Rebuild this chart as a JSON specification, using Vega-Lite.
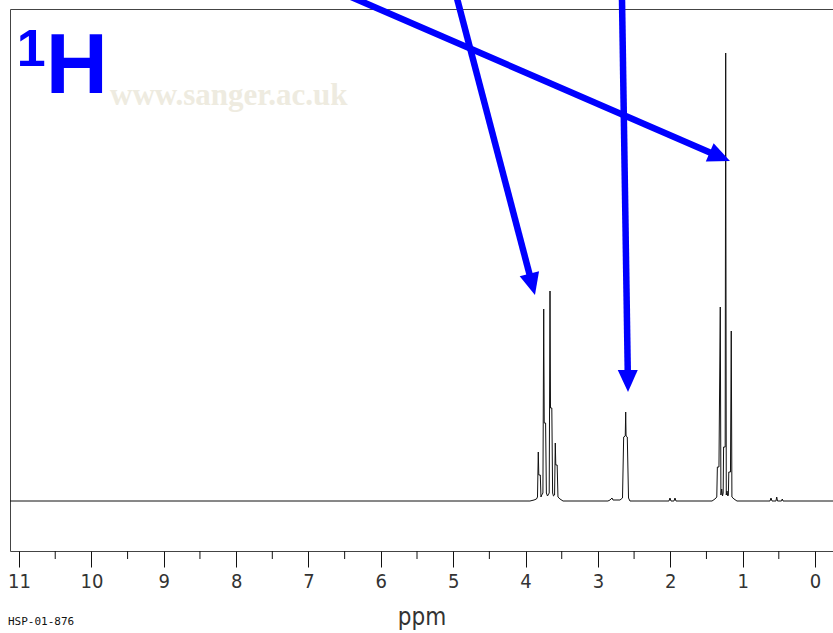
{
  "$schema": "https://vega.github.io/schema/vega-lite/v6.json",
  "autosize": {"type": "none"},
  "width": 823,
  "height": 542,
  "padding": {"left": 10, "top": 9, "right": 0, "bottom": 82},
  "background": "white",
  "config": {"view": {"stroke": "#444444", "strokeWidth": 1}},
  "layer": [
    {
      "data": {"values": [
        {"ppm": 11.125, "int": 0},
        {"ppm": 3.939, "int": 0}, {"ppm": 3.883, "int": 1}, {"ppm": 3.849, "int": 2}, {"ppm": 3.835, "int": 4},
        {"ppm": 3.824, "int": 49}, {"ppm": 3.817, "int": 26}, {"ppm": 3.796, "int": 26}, {"ppm": 3.787, "int": 4},
        {"ppm": 3.776, "int": 6}, {"ppm": 3.760, "int": 8}, {"ppm": 3.749, "int": 192}, {"ppm": 3.742, "int": 78},
        {"ppm": 3.723, "int": 78}, {"ppm": 3.712, "int": 8}, {"ppm": 3.697, "int": 5}, {"ppm": 3.673, "int": 8},
        {"ppm": 3.662, "int": 210}, {"ppm": 3.655, "int": 93}, {"ppm": 3.637, "int": 93}, {"ppm": 3.626, "int": 8},
        {"ppm": 3.614, "int": 5}, {"ppm": 3.599, "int": 6}, {"ppm": 3.589, "int": 58}, {"ppm": 3.582, "int": 36},
        {"ppm": 3.563, "int": 36}, {"ppm": 3.552, "int": 4}, {"ppm": 3.524, "int": 2}, {"ppm": 3.482, "int": 0},
        {"ppm": 2.861, "int": 0}, {"ppm": 2.833, "int": 1}, {"ppm": 2.805, "int": 3}, {"ppm": 2.792, "int": 1},
        {"ppm": 2.695, "int": 1}, {"ppm": 2.660, "int": 3}, {"ppm": 2.644, "int": 64}, {"ppm": 2.622, "int": 65},
        {"ppm": 2.616, "int": 89}, {"ppm": 2.611, "int": 65}, {"ppm": 2.594, "int": 64}, {"ppm": 2.577, "int": 3},
        {"ppm": 2.557, "int": 0},
        {"ppm": 2.018, "int": 0}, {"ppm": 2.004, "int": 3}, {"ppm": 1.990, "int": 0},
        {"ppm": 1.949, "int": 0}, {"ppm": 1.935, "int": 3}, {"ppm": 1.921, "int": 0},
        {"ppm": 1.423, "int": 0}, {"ppm": 1.382, "int": 2}, {"ppm": 1.357, "int": 4}, {"ppm": 1.349, "int": 34},
        {"ppm": 1.327, "int": 34}, {"ppm": 1.309, "int": 194}, {"ppm": 1.300, "int": 6}, {"ppm": 1.289, "int": 12},
        {"ppm": 1.278, "int": 5}, {"ppm": 1.269, "int": 8}, {"ppm": 1.263, "int": 54}, {"ppm": 1.241, "int": 54},
        {"ppm": 1.234, "int": 448}, {"ppm": 1.226, "int": 6}, {"ppm": 1.216, "int": 10}, {"ppm": 1.205, "int": 5},
        {"ppm": 1.197, "int": 6}, {"ppm": 1.191, "int": 29}, {"ppm": 1.168, "int": 29}, {"ppm": 1.157, "int": 170},
        {"ppm": 1.148, "int": 4}, {"ppm": 1.119, "int": 2}, {"ppm": 1.078, "int": 0},
        {"ppm": 0.622, "int": 0}, {"ppm": 0.608, "int": 3}, {"ppm": 0.594, "int": 0},
        {"ppm": 0.539, "int": 0}, {"ppm": 0.529, "int": 4}, {"ppm": 0.518, "int": 0},
        {"ppm": 0.463, "int": 0}, {"ppm": 0.452, "int": 2}, {"ppm": 0.442, "int": 0},
        {"ppm": -0.249, "int": 0}
      ]},
      "mark": {"type": "line", "color": "#111111", "strokeWidth": 1, "clip": true},
      "encoding": {
        "x": {
          "field": "ppm", "type": "quantitative",
          "scale": {"domain": [-0.249, 11.125], "reverse": true, "nice": false, "zero": false},
          "axis": {
            "values": [0, 1, 2, 3, 4, 5, 6, 7, 8, 9, 10, 11],
            "format": "d",
            "tickSize": 16,
            "tickColor": "#111111",
            "tickWidth": 1,
            "domain": false,
            "grid": false,
            "labelFont": "DejaVu Sans Condensed, DejaVu Sans",
            "labelFontSize": 20,
            "labelColor": "#333333",
            "labelPadding": 4,
            "labelOverlap": false,
            "labelFlush": false,
            "title": "ppm",
            "titleFont": "DejaVu Sans Condensed, DejaVu Sans",
            "titleFontSize": 24,
            "titleFontWeight": "normal",
            "titleColor": "#333333",
            "titlePadding": 14
          }
        },
        "y": {
          "field": "int", "type": "quantitative",
          "scale": {"domain": [-50, 492], "nice": false, "zero": false},
          "axis": null
        }
      }
    },
    {
      "data": {"values": [
        {"ppm": 0.5}, {"ppm": 1.5}, {"ppm": 2.5}, {"ppm": 3.5}, {"ppm": 4.5}, {"ppm": 5.5},
        {"ppm": 6.5}, {"ppm": 7.5}, {"ppm": 8.5}, {"ppm": 9.5}, {"ppm": 10.5}
      ]},
      "mark": {"type": "rule", "color": "#111111", "strokeWidth": 1, "clip": false},
      "encoding": {
        "x": {"field": "ppm", "type": "quantitative"},
        "y": {"datum": -50, "type": "quantitative"},
        "y2": {"datum": -58}
      }
    },
    {
      "data": {"values": [{"label": "www.sanger.ac.uk", "ppm": 9.743, "int": 396}]},
      "mark": {"type": "text", "font": "Liberation Serif", "fontWeight": "bold", "fontSize": 31, "color": "#eeebe0", "align": "left", "baseline": "alphabetic"},
      "encoding": {
        "x": {"field": "ppm", "type": "quantitative"},
        "y": {"field": "int", "type": "quantitative"},
        "text": {"field": "label", "type": "nominal"}
      }
    },
    {
      "data": {"values": [
        {"arrow": "a1", "ppm": 6.633, "int": 511}, {"arrow": "a1", "ppm": 1.404, "int": 347.1},
        {"arrow": "a2", "ppm": 4.978, "int": 511}, {"arrow": "a2", "ppm": 3.933, "int": 223.4},
        {"arrow": "a3", "ppm": 2.669, "int": 511}, {"arrow": "a3", "ppm": 2.587, "int": 127}
      ]},
      "mark": {"type": "line", "color": "#0000ff", "strokeWidth": 6.5, "strokeCap": "butt", "clip": false},
      "encoding": {
        "x": {"field": "ppm", "type": "quantitative"},
        "y": {"field": "int", "type": "quantitative"},
        "detail": {"field": "arrow", "type": "nominal"}
      }
    },
    {
      "data": {"values": [
        {"arrow": "a1", "ppm": 1.175, "int": 340, "rot": 113},
        {"arrow": "a2", "ppm": 3.870, "int": 206, "rot": 165.3},
        {"arrow": "a3", "ppm": 2.584, "int": 109, "rot": 179.3}
      ]},
      "mark": {"type": "point", "shape": "M0,0L-1,2.2L1,2.2Z", "filled": true, "color": "#0000ff", "opacity": 1, "size": 400, "strokeWidth": 0, "clip": false},
      "encoding": {
        "x": {"field": "ppm", "type": "quantitative"},
        "y": {"field": "int", "type": "quantitative"},
        "angle": {"field": "rot", "type": "quantitative", "scale": null}
      }
    },
    {
      "data": {"values": [{"label": "1", "ppm": 11.03, "int": 435}]},
      "mark": {"type": "text", "font": "Liberation Sans", "fontWeight": "bold", "fontSize": 52, "color": "#0000ff", "align": "left", "baseline": "alphabetic"},
      "encoding": {
        "x": {"field": "ppm", "type": "quantitative"},
        "y": {"field": "int", "type": "quantitative"},
        "text": {"field": "label", "type": "nominal"}
      }
    },
    {
      "data": {"values": [{"label": "H", "ppm": 10.63, "int": 408}]},
      "mark": {"type": "text", "font": "Liberation Sans", "fontWeight": "bold", "fontSize": 86, "color": "#0000ff", "align": "left", "baseline": "alphabetic"},
      "encoding": {
        "x": {"field": "ppm", "type": "quantitative"},
        "y": {"field": "int", "type": "quantitative"},
        "text": {"field": "label", "type": "nominal"}
      }
    },
    {
      "data": {"values": [{"label": "HSP-01-876", "ppm": 11.153, "int": -121}]},
      "mark": {"type": "text", "font": "DejaVu Sans Mono", "fontSize": 11, "color": "#111111", "align": "left", "baseline": "middle", "clip": false},
      "encoding": {
        "x": {"field": "ppm", "type": "quantitative"},
        "y": {"field": "int", "type": "quantitative"},
        "text": {"field": "label", "type": "nominal"}
      }
    }
  ]
}
